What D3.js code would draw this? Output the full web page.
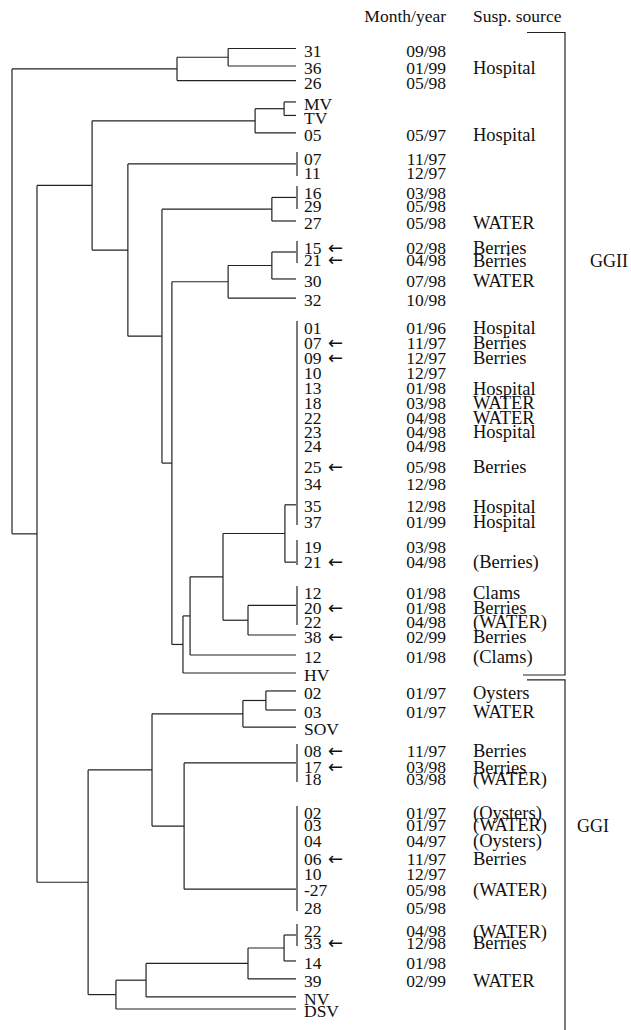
<!DOCTYPE html>
<html>
<head>
<meta charset="utf-8">
<script src="https://cdn.jsdelivr.net/npm/d3@7"></script>
<style>
  body { margin: 0; background: #fff; }
  svg text { font-family: "Liberation Serif", "Times New Roman", "DejaVu Serif", serif; fill: #111; }
  svg text.arr { font-family: "DejaVu Sans", sans-serif; }
</style>
</head>
<body>
<div id="main"></div>
<script>
// leaves, top to bottom
const leafLabels = ["31","36","26","MV","TV","05","07","11","16","29","27","15","21","30","32",
  "01","07","09","10","13","18","22","23","24","25","34","35","37","19","21",
  "12","20","22","38","12","HV","02","03","SOV","08","17","18",
  "02","03","04","06","10","-27","28","22","33","14","39","NV","DSV"]
// row of each leaf (uneven gaps as in the figure)
const leafRows = [0.16,1.29,2.23,3.61,4.48,5.61,7.16,8.06,9.35,10.19,11.29,12.9,13.68,15.03,16.26,
  18.06,19.03,20.0,20.97,21.94,22.9,23.87,24.77,25.68,27.03,28.13,29.55,30.58,32.19,33.16,
  35.16,36.13,37.03,38.0,39.29,40.45,41.61,42.84,43.94,45.35,46.39,47.16,
  49.35,50.13,51.16,52.32,53.29,54.32,55.48,56.97,57.74,59.03,60.19,61.35,62.13]
const months = ["09/98","01/99","05/98","","","05/97","11/97","12/97","03/98","05/98","05/98","02/98","04/98","07/98","10/98",
  "01/96","11/97","12/97","12/97","01/98","03/98","04/98","04/98","04/98","05/98","12/98","12/98","01/99","03/98","04/98",
  "01/98","01/98","04/98","02/99","01/98","","01/97","01/97","","11/97","03/98","03/98",
  "01/97","01/97","04/97","11/97","12/97","05/98","05/98","04/98","12/98","01/98","02/99","",""]
const sources = ["","Hospital","","","","Hospital","","","","","WATER","Berries","Berries","WATER","",
  "Hospital","Berries","Berries","","Hospital","WATER","WATER","Hospital","","Berries","","Hospital","Hospital","","(Berries)",
  "Clams","Berries","(WATER)","Berries","(Clams)","","Oysters","WATER","","Berries","Berries","(WATER)",
  "(Oysters)","(WATER)","(Oysters)","Berries","","(WATER)","","(WATER)","Berries","","WATER","",""]
const arrowed = [11,12,16,17,24,29,31,33,39,40,45,50]

// tree: [node height, ...children], numbers = leaf index
const tree =
[1.0,
  [0.419, [0.239, 0, 1], 2],
  [0.912,
    [0.718,
      [0.144, [0.042, 3, 4], 5],
      [0.592,
        [0, 6, 7],
        [0.472,
          [0.085, [0, 8, 9], 10],
          [0.437,
            [0.239, [0.085, [0, 11, 12], 13], 14],
            [0.398,
              [0.373,
                [0.257,
                  [0.039, [0, 15,16,17,18,19,20,21,22,23,24,25,26,27], [0, 28, 29]],
                  [0.169, [0, 30, 31, 32], 33]],
                34],
              35]]]]],
    [0.732,
      [0.507,
        [0.187, [0.106, 36, 37], 38],
        [0.394, [0, 39, 40, 41], [0, 42,43,44,45,46,47,48]]],
      [0.634,
        [0.528,
          [0.169, [0.042, [0, 49, 50], 51], 52],
          53],
        54]]]]

// row where a zero-length cluster joins its parent (keyed by its first leaf)
const polyJoinRow = {15: 29.6, 28: 33.3, 42: 54.4}

const groups = [
  {name: "GGII", first: 0, last: 35, labelAt: 12},
  {name: "GGI", first: 36, last: 54, labelAt: 43}
]

const width = 631, height = 1030
const svg = d3.select("#main").append("svg")
  .attr("width", width).attr("height", height)

const x = d3.scaleLinear().domain([0, 1]).range([296, 12])
const y = d3.scaleLinear().domain([0, 60]).range([48, 978])

const root = d3.hierarchy(tree, d => Array.isArray(d) ? d.slice(1) : null)
root.eachAfter(n => {
  if (!n.children) {
    n.h = 0
    n.first = n.data
    n.py = y(leafRows[n.data]) - 2
    return
  }
  n.h = n.data[0]
  n.first = n.children[0].first
  let ys = n.children.map(c => c.py)
  if (n.h === 0 && polyJoinRow[n.first] != null) n.py = y(polyJoinRow[n.first]) - 2
  else n.py = (ys[0] + ys[ys.length - 1]) / 2
})

let segs = []
root.each(n => {
  if (!n.children) return
  let ys = n.children.map(c => c.py)
  if (n.h === 0) {
    segs.push({x1: x(0) + 1, x2: x(0) + 1, y1: d3.min(ys) - 5, y2: d3.max(ys) + 5})
  } else {
    segs.push({x1: x(n.h), x2: x(n.h), y1: d3.min(ys), y2: d3.max(ys)})
    n.children.forEach(c => {
      segs.push({x1: x(n.h), x2: x(c.h), y1: c.py, y2: c.py})
    })
  }
})

svg.append("g")
  .attr("stroke", "#222")
  .attr("stroke-width", 1.2)
  .selectAll("line").data(segs).join("line")
  .attr("x1", d => d.x1).attr("x2", d => d.x2)
  .attr("y1", d => d.y1).attr("y2", d => d.y2)

// text columns
let rows = svg.append("g")
rows.selectAll("text.lab").data(leafLabels).join("text")
  .attr("class", "lab")
  .attr("x", x(0) + 8)
  .attr("y", (d, i) => y(leafRows[i]))
  .attr("dy", "0.35em")
  .attr("font-size", 17.5)
  .text(d => d)

rows.selectAll("text.arr").data(arrowed).join("text")
  .attr("class", "arr")
  .attr("x", x(0) + 32)
  .attr("y", d => y(leafRows[d]))
  .attr("dy", "0.35em")
  .attr("font-size", 18)
  .text("←")

rows.selectAll("text.mon").data(months).join("text")
  .attr("class", "mon")
  .attr("x", 446)
  .attr("text-anchor", "end")
  .attr("y", (d, i) => y(leafRows[i]))
  .attr("dy", "0.35em")
  .attr("font-size", 17.5)
  .text(d => d)

rows.selectAll("text.src").data(sources).join("text")
  .attr("class", "src")
  .attr("x", 473)
  .attr("y", (d, i) => y(leafRows[i]))
  .attr("dy", "0.35em")
  .attr("font-size", 18.5)
  .text(d => d)

// header
svg.append("text").attr("x", 446).attr("y", 16).attr("dy", "0.35em")
  .attr("text-anchor", "end").attr("font-size", 17.5).text("Month/year")
svg.append("text").attr("x", 473).attr("y", 16).attr("dy", "0.35em")
  .attr("font-size", 17.5).text("Susp. source")

// genogroup brackets
let bx = 565
groups.forEach((gr, k) => {
  let top = k === 0 ? y(leafRows[gr.first]) - 18 : y(leafRows[gr.first]) - 13
  let bot = k === 0 ? y(leafRows[gr.last]) : height
  svg.append("path")
    .attr("d", `M${bx - 38},${top}H${bx}V${bot}` + (k === 0 ? `H${bx - 42}` : ""))
    .attr("fill", "none")
    .attr("stroke", "#222")
    .attr("stroke-width", 1.2)
  svg.append("text")
    .attr("x", k === 0 ? bx + 25 : bx + 12)
    .attr("y", y(leafRows[gr.labelAt]) + 1)
    .attr("dy", "0.35em")
    .attr("font-size", 18)
    .text(gr.name)
})
</script>
</body>
</html>
